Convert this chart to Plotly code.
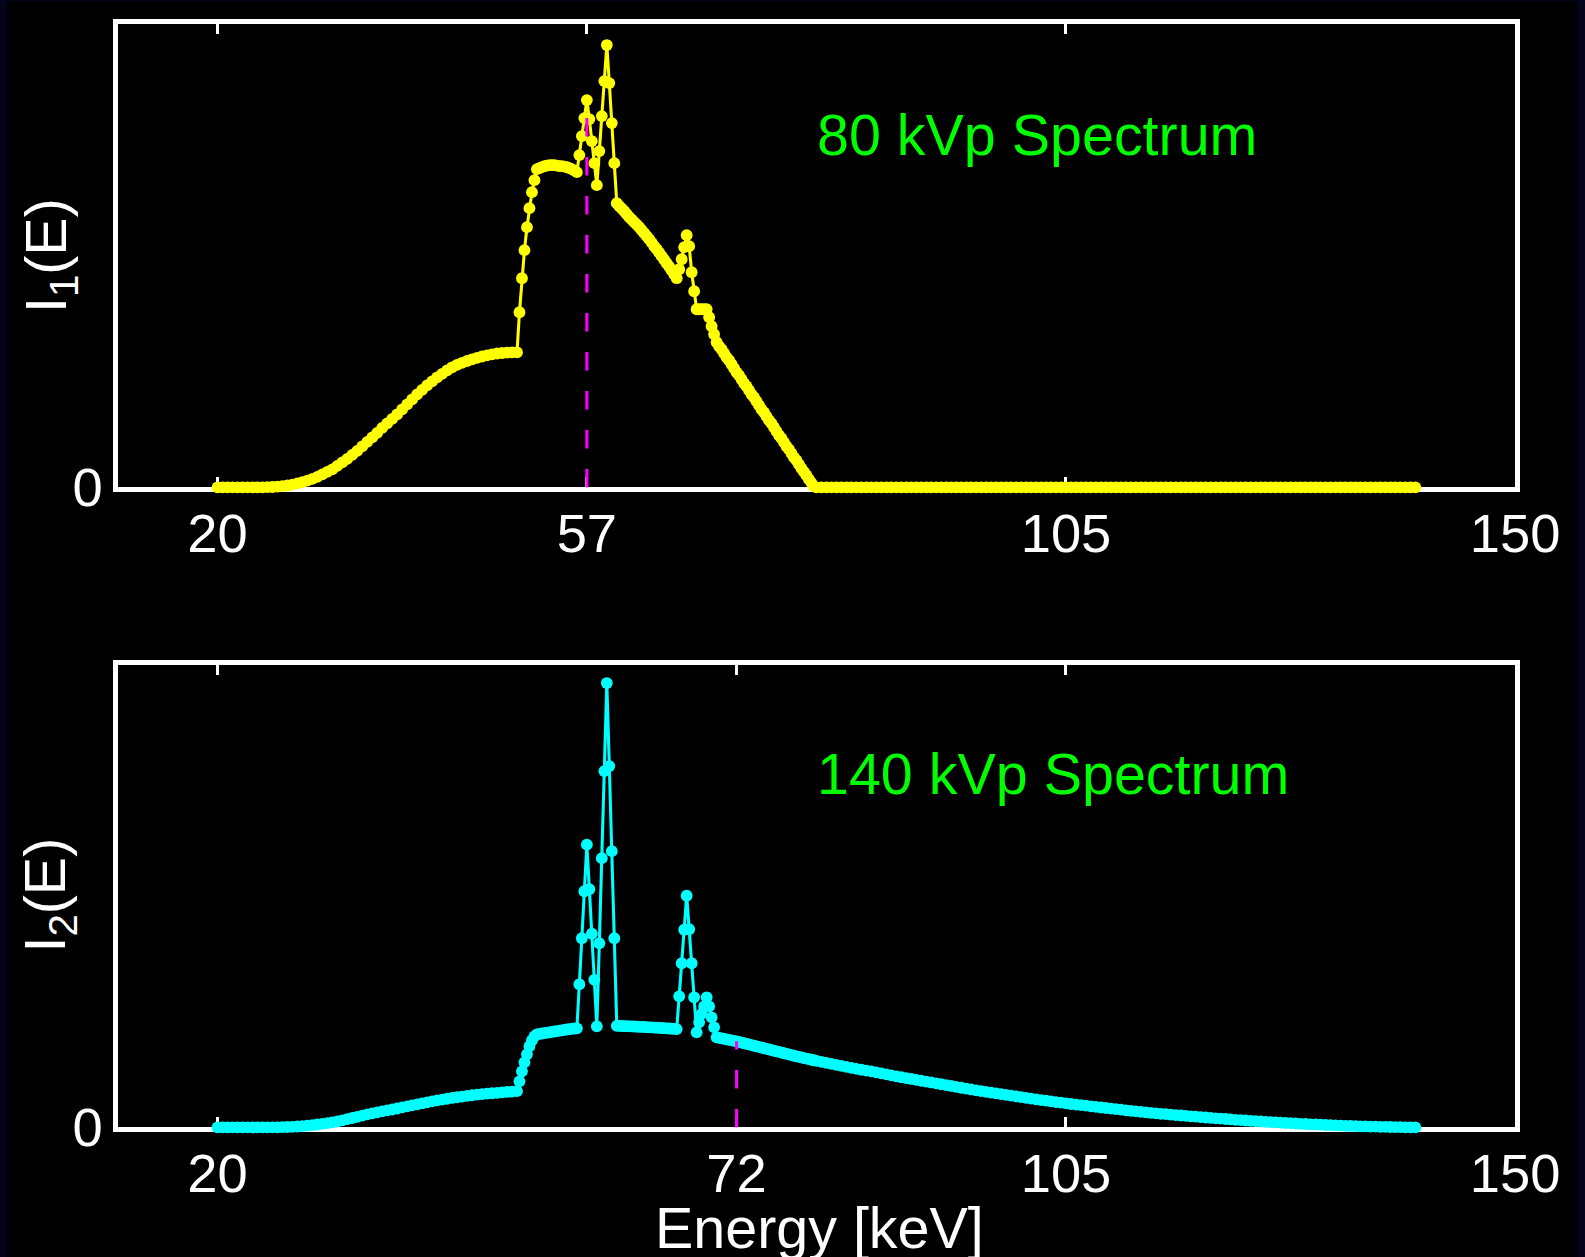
import plotly.graph_objects as go

# ---------------- data (energies in keV, intensities in arbitrary units) ----------------
energy_a = [
    20.0, 20.5, 21.0, 21.5, 22.0, 22.5, 23.0, 23.5, 24.0, 24.5,
    25.0, 25.5, 26.0, 26.5, 27.0, 27.5, 28.0, 28.5, 29.0, 29.5,
    30.0, 30.5, 31.0, 31.5, 32.0, 32.5, 33.0, 33.5, 34.0, 34.5,
    35.0, 35.5, 36.0, 36.5, 37.0, 37.5, 38.0, 38.5, 39.0, 39.5,
    40.0, 40.5, 41.0, 41.5, 42.0, 42.5, 43.0, 43.5, 44.0, 44.5,
    45.0, 45.5, 46.0, 46.5, 47.0, 47.5, 48.0, 48.5, 49.0, 49.5,
    50.0,
]
energy_b = [
    50.25, 50.5, 50.75, 51.0, 51.25, 51.5, 51.75, 52.0,
    52.25, 52.5, 52.75, 53.0, 53.25, 53.5, 53.75, 54.0,
    54.25, 54.5, 54.75, 55.0, 55.25, 55.5, 55.75, 56.0,
    56.25, 56.5, 56.75, 57.0, 57.25, 57.5, 57.75, 58.0,
    58.25, 58.5, 58.75, 59.0, 59.25, 59.5, 59.75, 60.0,
    60.25, 60.5, 60.75, 61.0, 61.25, 61.5, 61.75, 62.0,
    62.25, 62.5, 62.75, 63.0, 63.25, 63.5, 63.75, 64.0,
    64.25, 64.5, 64.75, 65.0, 65.25, 65.5, 65.75, 66.0,
    66.25, 66.5, 66.75, 67.0, 67.25, 67.5, 67.75, 68.0,
    68.25, 68.5, 68.75, 69.0, 69.25, 69.5, 69.75, 70.0,
    70.25, 70.5, 70.75, 71.0, 71.25, 71.5, 71.75, 72.0,
    72.25, 72.5, 72.75, 73.0, 73.25, 73.5, 73.75, 74.0,
    74.25, 74.5, 74.75, 75.0, 75.25, 75.5, 75.75, 76.0,
    76.25, 76.5, 76.75, 77.0, 77.25, 77.5, 77.75, 78.0,
    78.25, 78.5, 78.75, 79.0, 79.25, 79.5, 79.75, 80.0,
]
energy_c = [
    80.5, 81.0, 81.5, 82.0, 82.5, 83.0, 83.5, 84.0, 84.5, 85.0,
    85.5, 86.0, 86.5, 87.0, 87.5, 88.0, 88.5, 89.0, 89.5, 90.0,
    90.5, 91.0, 91.5, 92.0, 92.5, 93.0, 93.5, 94.0, 94.5, 95.0,
    95.5, 96.0, 96.5, 97.0, 97.5, 98.0, 98.5, 99.0, 99.5, 100.0,
    100.5, 101.0, 101.5, 102.0, 102.5, 103.0, 103.5, 104.0, 104.5, 105.0,
    105.5, 106.0, 106.5, 107.0, 107.5, 108.0, 108.5, 109.0, 109.5, 110.0,
    110.5, 111.0, 111.5, 112.0, 112.5, 113.0, 113.5, 114.0, 114.5, 115.0,
    115.5, 116.0, 116.5, 117.0, 117.5, 118.0, 118.5, 119.0, 119.5, 120.0,
    120.5, 121.0, 121.5, 122.0, 122.5, 123.0, 123.5, 124.0, 124.5, 125.0,
    125.5, 126.0, 126.5, 127.0, 127.5, 128.0, 128.5, 129.0, 129.5, 130.0,
    130.5, 131.0, 131.5, 132.0, 132.5, 133.0, 133.5, 134.0, 134.5, 135.0,
    135.5, 136.0, 136.5, 137.0, 137.5, 138.0, 138.5, 139.0, 139.5, 140.0,
]

# 80 kVp spectrum I1(E)
spec80_a = [
    0, 0, 0, 0, 0, 0, 0, 0, 0, 0.1,
    0.2, 0.4, 0.7, 1.2, 1.9, 2.8, 4.0, 5.3, 6.8, 8.5,
    10.5, 13, 15.5, 18, 21.5, 25, 28.5, 32.5, 36.5, 41,
    45.5, 50, 54.5, 59.5, 64, 68.5, 73, 78, 83, 88,
    93, 97.5, 102, 106, 110, 113.5, 117, 120, 122.5, 124.5,
    126.3, 128, 129.5, 130.8, 132, 133, 133.8, 134.3, 134.7, 135,
    135,
]
spec80_b = [
    175, 209, 237, 260, 279, 295, 307, 318,
    319, 320, 321, 321.5, 322, 322, 322, 321.5,
    321, 321, 320.5, 320, 319, 318, 316.5, 315,
    332, 351, 369, 387, 368, 346, 324, 302,
    336, 371, 406, 442, 404, 364, 324, 284,
    281, 278.5, 276, 273, 270, 267.5, 265, 262.5,
    260, 257, 254, 251, 248, 244.5, 241, 238,
    234.5, 231, 227.5, 224, 220.5, 217, 213, 209,
    218, 228, 240, 252, 241, 215, 196, 178,
    178, 178, 178, 178, 170, 161, 153, 145,
    141, 138, 134, 130, 127, 123, 119, 115,
    112, 108, 104, 101, 97, 93, 90, 86,
    82, 78, 75, 71, 67, 64, 60, 56,
    52, 49, 45, 41, 38, 34, 30, 27,
    23, 19, 15.5, 12, 8, 4.5, 1, 0,
]
spec80_c = [
    0, 0, 0, 0, 0, 0, 0, 0, 0, 0,
    0, 0, 0, 0, 0, 0, 0, 0, 0, 0,
    0, 0, 0, 0, 0, 0, 0, 0, 0, 0,
    0, 0, 0, 0, 0, 0, 0, 0, 0, 0,
    0, 0, 0, 0, 0, 0, 0, 0, 0, 0,
    0, 0, 0, 0, 0, 0, 0, 0, 0, 0,
    0, 0, 0, 0, 0, 0, 0, 0, 0, 0,
    0, 0, 0, 0, 0, 0, 0, 0, 0, 0,
    0, 0, 0, 0, 0, 0, 0, 0, 0, 0,
    0, 0, 0, 0, 0, 0, 0, 0, 0, 0,
    0, 0, 0, 0, 0, 0, 0, 0, 0, 0,
    0, 0, 0, 0, 0, 0, 0, 0, 0, 0,
]

# 140 kVp spectrum I2(E)
spec140_a = [
    0, 0, 0, 0, 0, 0, 0, 0, 0, 0,
    0, 0, 0, 0.2, 0.4, 0.6, 0.9, 1.2, 1.7, 2.3,
    2.9, 3.6, 4.3, 5.0, 5.9, 7.0, 8.2, 9.4, 10.6, 11.8,
    13, 14, 15, 16, 17, 17.9, 18.9, 20, 21, 22,
    23, 24, 25, 26, 27, 27.8, 28.6, 29.4, 30.1, 30.8,
    31.5, 32.1, 32.7, 33.2, 33.7, 34.1, 34.5, 35, 35.4, 35.8,
    36.2,
]
spec140_b = [
    46, 56, 65, 73, 81, 87, 91, 93,
    93.4, 93.8, 94.2, 94.6, 95, 95.4, 95.8, 96.2,
    96.6, 97, 97.4, 97.8, 98.2, 98.5, 98.8, 99,
    143, 189, 236, 282.5, 238, 193.5, 147.5, 101,
    184, 269, 356, 444, 361, 276, 189, 101.5,
    101.4, 101.3, 101.2, 101.1, 101, 100.9, 100.8, 100.7,
    100.5, 100.4, 100.3, 100.1, 100, 99.9, 99.7, 99.6,
    99.4, 99.3, 99.1, 99, 98.8, 98.6, 98.4, 98.2,
    131, 164, 197.5, 231.5, 198, 164, 130, 95,
    105, 113.5, 121, 130, 121, 110, 100, 90,
    89.5, 89, 88.5, 88, 87.5, 87, 86.5, 86,
    85.4, 84.8, 84.1, 83.5, 82.9, 82.3, 81.6, 81,
    80.4, 79.8, 79.1, 78.5, 77.9, 77.3, 76.6, 76,
    75.4, 74.8, 74.1, 73.5, 72.9, 72.3, 71.6, 71,
    70.4, 69.9, 69.3, 68.8, 68.2, 67.6, 67.1, 66.5,
]
spec140_c = [
    65.5, 64.5, 63.5, 62.5, 61.5, 60.5, 59.5, 58.5, 57.6, 56.7,
    55.9, 55, 54, 53, 52, 51, 50.1, 49.3, 48.4, 47.5,
    46.6, 45.8, 44.9, 44, 43.1, 42.3, 41.4, 40.5, 39.6, 38.8,
    37.9, 37, 36.3, 35.5, 34.8, 34, 33.3, 32.5, 31.8, 31,
    30.3, 29.5, 28.8, 28, 27.3, 26.7, 26, 25.3, 24.7, 24,
    23.4, 22.8, 22.2, 21.7, 21.1, 20.5, 19.9, 19.4, 18.8, 18.2,
    17.7, 17.1, 16.6, 16, 15.5, 15, 14.6, 14.1, 13.6, 13.2,
    12.7, 12.3, 11.9, 11.5, 11.1, 10.7, 10.3, 9.9, 9.5, 9.1,
    8.7, 8.4, 8, 7.6, 7.2, 6.9, 6.5, 6.2, 5.9, 5.6,
    5.3, 5, 4.7, 4.4, 4.2, 3.9, 3.6, 3.4, 3.1, 2.9,
    2.7, 2.4, 2.2, 2, 1.8, 1.6, 1.5, 1.3, 1.1, 1,
    0.8, 0.7, 0.6, 0.5, 0.4, 0.3, 0.2, 0.1, 0.05, 0,
]

mean_energy_80 = 57.0
mean_energy_140 = 72.0
ticks_80 = [20, 57, 105, 150]
ticks_140 = [20, 72, 105, 150]
tick_text_80 = ["20", "57", "105", "150"]
tick_text_140 = ["20", "72", "105", "150"]
label_80 = "80 kVp Spectrum"
label_140 = "140 kVp Spectrum"

energy = energy_a + energy_b + energy_c
spec80 = spec80_a + spec80_b + spec80_c
spec140 = spec140_a + spec140_b + spec140_c

# ---------------- figure ----------------
# reference frame is 1585 x 1257; the photographed area comes out ~2.6 % larger,
# so the figure is built in that slightly larger frame with the same proportions.
W, H = 1585, 1257
K = 1.0256
FW, FH = round(W * K), round(H * K)
FONT = "Liberation Sans, Arial, sans-serif"


def px_x(p):
    return p / W


def px_y(p):
    return 1 - p / H


def s(v):
    return v * K


fig = go.Figure()

fig.add_trace(go.Scatter(
    x=energy, y=spec80, mode="lines+markers",
    line=dict(color="#ffff00", width=s(3)),
    marker=dict(color="#ffff00", size=s(11.5)),
    cliponaxis=False, xaxis="x", yaxis="y", showlegend=False,
))
fig.add_trace(go.Scatter(
    x=[mean_energy_80, mean_energy_80],
    y=[0, spec80[energy.index(mean_energy_80)]],
    mode="lines",
    line=dict(color="#ff00ff", width=s(3), dash=f"{s(18):.1f}px,{s(20):.1f}px"),
    xaxis="x", yaxis="y", showlegend=False,
))
fig.add_trace(go.Scatter(
    x=energy, y=spec140, mode="lines+markers",
    line=dict(color="#00ffff", width=s(3)),
    marker=dict(color="#00ffff", size=s(11.5)),
    cliponaxis=False, xaxis="x2", yaxis="y2", showlegend=False,
))
fig.add_trace(go.Scatter(
    x=[mean_energy_140, mean_energy_140],
    y=[0, spec140[energy.index(mean_energy_140)]],
    mode="lines",
    line=dict(color="#ff00ff", width=s(3), dash=f"{s(18):.1f}px,{s(20):.1f}px"),
    xaxis="x2", yaxis="y2", showlegend=False,
))

x_dom = [px_x(118), px_x(1519)]
common_x = dict(
    range=[10, 150], showgrid=False, zeroline=False,
    showline=True, linecolor="white", linewidth=s(5), mirror="ticks",
    ticks="inside", ticklen=s(10), tickwidth=s(3), tickcolor="white",
    tickfont=dict(family=FONT, size=s(53), color="white"),
    ticklabelstandoff=-6, layer="below traces", domain=x_dom,
)
common_y = dict(
    showgrid=False, zeroline=False,
    showline=True, linecolor="white", linewidth=s(5), mirror="ticks",
    ticks="", tickvals=[0], ticktext=["0"],
    tickfont=dict(family=FONT, size=s(53), color="white"),
    ticklabelstandoff=-1, layer="below traces",
)

fig.update_layout(
    width=FW, height=FH, autosize=False,
    margin=dict(l=0, r=0, t=0, b=0, pad=0),
    paper_bgcolor="#03031c", plot_bgcolor="black",
    xaxis=dict(common_x, anchor="y", tickvals=ticks_80, ticktext=tick_text_80),
    yaxis=dict(common_y, anchor="x", range=[0, 463], domain=[px_y(487), px_y(24)]),
    xaxis2=dict(common_x, anchor="y2", tickvals=ticks_140, ticktext=tick_text_140),
    yaxis2=dict(common_y, anchor="x2", range=[0, 462], domain=[px_y(1126.5), px_y(664.5)]),
    shapes=[dict(type="rect", xref="paper", yref="paper",
                 x0=px_x(7), x1=px_x(1581), y0=0, y1=px_y(1),
                 fillcolor="black", line=dict(width=0), layer="below")],
    annotations=[
        dict(text=label_80, x=px_x(1040), y=px_y(135), xref="paper", yref="paper",
             xanchor="center", yanchor="middle", showarrow=False,
             font=dict(family=FONT, size=s(56), color="#00ff00")),
        dict(text=label_140, x=px_x(1056), y=px_y(773), xref="paper", yref="paper",
             xanchor="center", yanchor="middle", showarrow=False,
             font=dict(family=FONT, size=s(56), color="#00ff00")),
        dict(text="Energy [keV]", x=px_x(822), y=px_y(1227.5), xref="paper", yref="paper",
             xanchor="center", yanchor="middle", showarrow=False,
             font=dict(family=FONT, size=s(56), color="white")),
        dict(text="I<sub>1</sub>(E)", x=px_x(50), y=px_y(255), xref="paper", yref="paper",
             xanchor="center", yanchor="middle", showarrow=False, textangle=-90,
             font=dict(family=FONT, size=s(56), color="white")),
        dict(text="I<sub>2</sub>(E)", x=px_x(50), y=px_y(894), xref="paper", yref="paper",
             xanchor="center", yanchor="middle", showarrow=False, textangle=-90,
             font=dict(family=FONT, size=s(56), color="white")),
    ],
)

fig.write_html(
    "out.html",
    config={"responsive": False, "displayModeBar": False},
    default_width=f"{FW}px", default_height=f"{FH}px",
    post_script=(
        "var st=document.createElement('style');"
        "st.textContent='html,body{margin:0!important;padding:0!important;"
        "overflow:hidden!important;background:#03031c;}';"
        "document.head.appendChild(st);"
    ),
)
